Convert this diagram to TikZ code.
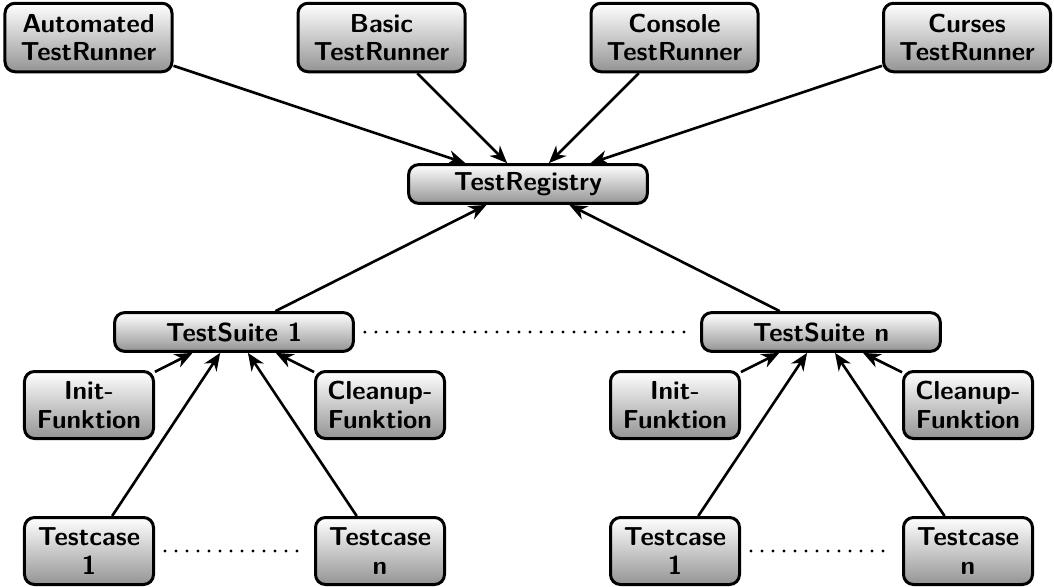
\documentclass[tikz,border=0pt]{standalone}
\usetikzlibrary{arrows.meta,shadings}
\begin{document}
\begin{tikzpicture}[x=0.4pt,y=-0.4pt,
  box/.style={draw=black, line width=1.2pt, rounded corners=4pt,
    top color=white, bottom color=black!42, align=center, inner sep=1pt,
    font={\sffamily\bfseries\fontsize{10.4}{11.4}\selectfont}},
  runner/.style={box, minimum width=66.8pt, minimum height=27.4pt},
  wide/.style={box, minimum width=95.5pt, minimum height=15.5pt},
  small/.style={box, minimum width=51.6pt, minimum height=26.8pt},
  conn/.style={line width=1.05pt, -{Stealth[length=7pt,width=5.8pt,inset=2.2pt]}},
  dots/.style={line width=1.3pt, line cap=round, dash pattern=on 0pt off 4.4pt, shorten <=4pt, shorten >=4pt}]
\useasboundingbox (0,0) rectangle (1054,587);

\node[runner] (auto) at (88.5,37.5) {Automated\\TestRunner};
\node[runner] (basic) at (381.5,37.5) {Basic\\TestRunner};
\node[runner] (console) at (674.5,37.5) {Console\\TestRunner};
\node[runner] (curses) at (967,37.5) {Curses\\TestRunner};

\node[wide] (reg) at (528,184) {TestRegistry};

\node[wide] (s1) at (234,332) {TestSuite 1};
\node[wide] (sn) at (821,332) {TestSuite n};

\node[small] (init1) at (89,405) {Init-\\Funktion};
\node[small] (clean1) at (380,405) {Cleanup-\\Funktion};
\node[small] (tc11) at (89,551) {Testcase\\1};
\node[small] (tc1n) at (380,551) {Testcase\\n};

\node[small] (initn) at (675,405) {Init-\\Funktion};
\node[small] (cleann) at (968,405) {Cleanup-\\Funktion};
\node[small] (tcn1) at (675,551) {Testcase\\1};
\node[small] (tcnn) at (968,551) {Testcase\\n};

\foreach \r in {auto,basic,console,curses} \draw[conn] (\r) -- (reg);
\draw[conn] (s1) -- (reg);
\draw[conn] (sn) -- (reg);
\foreach \c in {init1,clean1,tc11,tc1n} \draw[conn] (\c) -- (s1);
\foreach \c in {initn,cleann,tcn1,tcnn} \draw[conn] (\c) -- (sn);

\draw[dots] (s1.east) -- (sn.west);
\draw[dots] (tc11.east) -- (tc1n.west);
\draw[dots] (tcn1.east) -- (tcnn.west);
\end{tikzpicture}
\end{document}
